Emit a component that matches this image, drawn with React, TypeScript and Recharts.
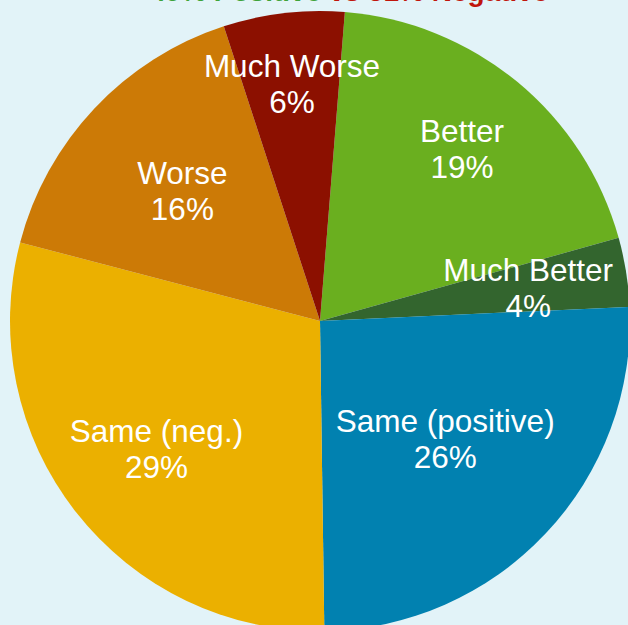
import React from 'react';
import { PieChart, Pie, Cell } from 'recharts';

const categories = ['Better', 'Much Better', 'Same (positive)', 'Same (neg.)', 'Worse', 'Much Worse'];
const shares = [19.4, 3.6, 25.5, 29.3, 15.9, 6.3];
const percentLabels = ['19%', '4%', '26%', '29%', '16%', '6%'];
const colors = ['#6AAF1F', '#33652E', '#0181B0', '#EBB000', '#CC7A06', '#8C1000'];
const labelRadius = [0.72, 0.68, 0.555, 0.67, 0.61, 0.77];

const data = categories.map((name, i) => ({ name, value: shares[i], pct: percentLabels[i] }));

const RAD = Math.PI / 180;

const renderLabel = (props: any) => {
  const { cx, cy, midAngle, outerRadius, index } = props;
  const r = outerRadius * labelRadius[index];
  const x = cx + r * Math.cos(-midAngle * RAD);
  const y = cy + r * Math.sin(-midAngle * RAD);
  return (
    <text
      x={x}
      y={y}
      fill="#FFFFFF"
      textAnchor="middle"
      fontFamily="'Liberation Sans', Arial, sans-serif"
      fontSize={31.5}
    >
      <tspan x={x} dy={-7}>{data[index].name}</tspan>
      <tspan x={x} dy={36}>{data[index].pct}</tspan>
    </text>
  );
};

export default function App() {
  return (
    <div
      style={{
        position: 'absolute',
        left: 0,
        top: 0,
        width: 628,
        height: 625,
        background: '#E2F3F8',
        overflow: 'hidden',
      }}
    >
      <PieChart width={628} height={625} margin={{ top: 0, right: 0, bottom: 0, left: 0 }}>
        <text
          x={150}
          y={1}
          fontFamily="'Liberation Sans', Arial, sans-serif"
          fontSize={28}
          fontWeight="bold"
        >
          <tspan fill="#3FA33A">49% Positive </tspan>
          <tspan fill="#C0150C">vs 51% Negative</tspan>
        </text>
        <Pie
          data={data}
          dataKey="value"
          nameKey="name"
          cx={320}
          cy={321}
          outerRadius={310}
          startAngle={85.4}
          endAngle={-274.6}
          stroke="none"
          label={renderLabel}
          labelLine={false}
          isAnimationActive={false}
        >
          {data.map((d, i) => (
            <Cell key={d.name} fill={colors[i]} />
          ))}
        </Pie>
      </PieChart>
    </div>
  );
}
